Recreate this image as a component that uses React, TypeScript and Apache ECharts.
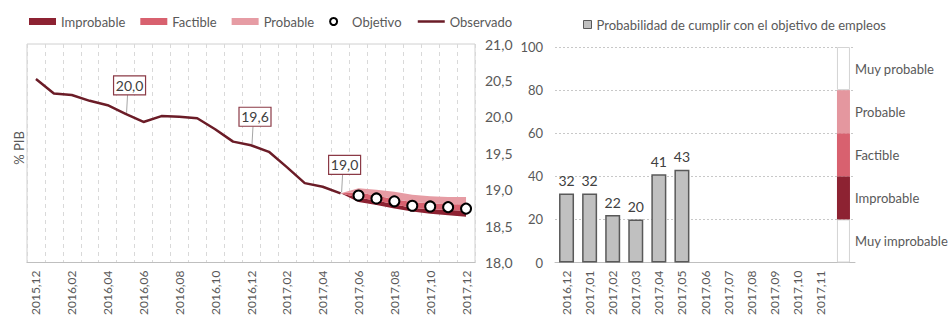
import React, { useEffect, useRef } from "react";
import * as echarts from "echarts";

const FONT = "Lato, 'Open Sans', sans-serif";

// ---------- Left chart data ----------
const leftMonths = [
  "2015,12", "2016,01", "2016,02", "2016,03", "2016,04", "2016,05", "2016,06",
  "2016,07", "2016,08", "2016,09", "2016,10", "2016,11", "2016,12", "2017,01",
  "2017,02", "2017,03", "2017,04", "2017,05", "2017,06", "2017,07", "2017,08",
  "2017,09", "2017,10", "2017,11", "2017,12",
];
const observado = [
  20.52, 20.32, 20.3, 20.22, 20.16, 20.04, 19.93, 20.01, 20.0, 19.98, 19.83,
  19.66, 19.61, 19.52, 19.31, 19.09, 19.04, 18.95,
];
// fan starts at 2017,05 (index 17) and runs to 2017,12
const fanStart = 17;
const fanLower = [18.95, 18.83, 18.79, 18.74, 18.7, 18.67, 18.65, 18.63];
const improbableTop = [18.95, 18.89, 18.85, 18.8, 18.75, 18.73, 18.72, 18.71];
const factibleTop = [18.95, 18.96, 18.92, 18.87, 18.83, 18.81, 18.8, 18.8];
const probableTop = [18.95, 19.02, 19.0, 18.97, 18.93, 18.91, 18.9, 18.9];
const objetivoStart = 18;
const objetivo = [18.92, 18.88, 18.84, 18.78, 18.77, 18.76, 18.74];
const annotIdx = [5, 12, 17];
const annotText = ["20,0", "19,6", "19,0"];

// ---------- Right chart data ----------
const rightMonths = [
  "2016,12", "2017,01", "2017,02", "2017,03", "2017,04", "2017,05", "2017,06",
  "2017,07", "2017,08", "2017,09", "2017,10", "2017,11", "",
];
const probabilidad = [32, 32, 22, 20, 41, 43];
const stripNames = ["Muy improbable", "Improbable", "Factible", "Probable", "Muy probable"];
const stripSizes = [20, 20, 20, 20, 20];
const stripColors = ["#ffffff", "#8d2232", "#d8616f", "#e4979f", "#ffffff"];

const C_IMP = "#8d2232";
const C_FAC = "#d8616f";
const C_PRO = "#e69ca4";
const C_OBS = "#6b1c27";
const TXT = "#595959";

function padTo(len: number, start: number, vals: number[]): (number | string)[] {
  const out: (number | string)[] = [];
  for (let i = 0; i < len; i++) {
    const j = i - start;
    out.push(j >= 0 && j < vals.length ? vals[j] : "-");
  }
  return out;
}

export default function App() {
  const ref = useRef<HTMLDivElement>(null);
  useEffect(() => {
    if (!ref.current) return;
    const chart = echarts.init(ref.current, undefined, { renderer: "svg" });
    const n = leftMonths.length;
    const lower = padTo(n, fanStart, fanLower);
    const impT = padTo(n, fanStart, improbableTop.map((v, i) => +(v - fanLower[i]).toFixed(3)));
    const facT = padTo(n, fanStart, factibleTop.map((v, i) => +(v - improbableTop[i]).toFixed(3)));
    const proT = padTo(n, fanStart, probableTop.map((v, i) => +(v - factibleTop[i]).toFixed(3)));
    const obj = padTo(n, objetivoStart, objetivo);
    const annotData = annotIdx.map((i) => [i, observado[i]]);

    const rn = rightMonths.length;
    const stripSeries = stripNames.map((nm, k) => ({
      name: "strip-" + k,
      type: "bar",
      xAxisIndex: 2,
      yAxisIndex: 1,
      stack: "strip",
      barWidth: 13,
      silent: true,
      data: padTo(rn, rn - 1, [stripSizes[k]]),
      itemStyle: {
        color: stripColors[k],
        borderColor: stripColors[k] === "#ffffff" ? "#d4d4d4" : stripColors[k],
        borderWidth: stripColors[k] === "#ffffff" ? 1 : 0,
      },
      label: {
        show: true,
        position: "right",
        distance: 5,
        formatter: () => nm,
        fontSize: 13,
        color: TXT,
        fontFamily: FONT,
      },
      z: 3,
    }));

    const option: any = {
      animation: false,
      textStyle: { fontFamily: FONT },
      legend: [
        {
          left: 24,
          top: 10,
          itemWidth: 27,
          itemHeight: 7,
          itemGap: 15,
          textStyle: { fontSize: 13, color: TXT, fontFamily: FONT },
          data: [
            { name: "Improbable", icon: "rect", itemStyle: { color: C_IMP } },
            { name: "Factible", icon: "rect", itemStyle: { color: C_FAC } },
            { name: "Probable", icon: "rect", itemStyle: { color: C_PRO } },
            { name: "Objetivo", icon: "circle", itemStyle: { color: "#fff", borderColor: "#000", borderWidth: 2 } },
            { name: "Observado", itemStyle: { opacity: 0 }, lineStyle: { color: C_OBS, width: 2.5 } },
          ],
        },
        {
          left: 578,
          top: 13,
          itemWidth: 8,
          itemHeight: 8,
          textStyle: { fontSize: 13, color: TXT, fontFamily: FONT },
          data: [
            {
              name: "Probabilidad de cumplir con el objetivo de empleos",
              icon: "rect",
              itemStyle: { color: "#c0c0c0", borderColor: "#595959", borderWidth: 1 },
            },
          ],
        },
      ],
      grid: [
        { left: 27, top: 44, width: 448, height: 221, show: true, borderColor: "#d0d0d0", borderWidth: 1 },
        { left: 555, top: 47, width: 300, height: 217 },
      ],
      xAxis: [
        {
          type: "category",
          gridIndex: 0,
          data: leftMonths,
          boundaryGap: true,
          axisLine: { lineStyle: { color: "#bfbfbf" } },
          axisTick: { show: false },
          axisLabel: { interval: 1, rotate: 90, fontSize: 12, color: TXT, margin: 8, fontFamily: FONT },
          splitLine: { show: true, interval: 0, lineStyle: { color: "#d9d9d9", type: [4, 4] } },
        },
        {
          type: "category",
          gridIndex: 1,
          data: rightMonths,
          axisLine: { lineStyle: { color: "#bfbfbf" } },
          axisTick: { show: false },
          axisLabel: { interval: 0, rotate: 90, fontSize: 12, color: TXT, margin: 8, fontFamily: FONT },
        },
        {
          type: "category",
          gridIndex: 1,
          data: rightMonths,
          show: false,
        },
      ],
      yAxis: [
        {
          type: "value",
          gridIndex: 0,
          position: "right",
          min: 18,
          max: 21,
          interval: 0.5,
          axisLine: { show: false },
          axisTick: { show: false },
          splitLine: { show: false },
          axisLabel: {
            margin: 10,
            fontSize: 14,
            color: TXT,
            fontFamily: FONT,
            formatter: (v: number) => v.toFixed(1).replace(".", ","),
          },
        },
        {
          type: "value",
          gridIndex: 1,
          min: 0,
          max: 100,
          interval: 20,
          axisLine: { show: false },
          axisTick: { show: false },
          splitLine: { show: true, lineStyle: { color: "#c8c8c8", type: [2, 2] } },
          axisLabel: { margin: 12, fontSize: 13, color: TXT, fontFamily: FONT },
        },
      ],
      graphic: [
        {
          type: "text",
          x: 19,
          y: 148,
          rotation: Math.PI / 2,
          style: {
            text: "% PIB",
            fontSize: 13,
            fill: TXT,
            fontFamily: FONT,
            align: "center",
            verticalAlign: "middle",
          },
        },
      ],
      series: [
        {
          name: "fan-base",
          type: "line",
          stack: "fan",
          data: lower,
          symbol: "none",
          lineStyle: { width: 0, opacity: 0 },
          silent: true,
          z: 2,
        },
        {
          name: "Improbable",
          type: "line",
          stack: "fan",
          data: impT,
          symbol: "none",
          itemStyle: { color: C_IMP },
          lineStyle: { width: 0, opacity: 0 },
          areaStyle: { color: C_IMP, opacity: 1 },
          z: 2,
        },
        {
          name: "Factible",
          type: "line",
          stack: "fan",
          data: facT,
          symbol: "none",
          itemStyle: { color: C_FAC },
          lineStyle: { width: 0, opacity: 0 },
          areaStyle: { color: C_FAC, opacity: 1 },
          z: 2,
        },
        {
          name: "Probable",
          type: "line",
          stack: "fan",
          data: proT,
          symbol: "none",
          itemStyle: { color: C_PRO },
          lineStyle: { width: 0, opacity: 0 },
          areaStyle: { color: C_PRO, opacity: 1 },
          z: 2,
        },
        {
          name: "Observado",
          type: "line",
          data: observado,
          symbol: "none",
          itemStyle: { color: C_OBS },
          lineStyle: { color: C_OBS, width: 2.5 },
          z: 3,
        },
        {
          name: "Objetivo",
          type: "scatter",
          data: obj,
          symbol: "circle",
          symbolSize: 10,
          itemStyle: { color: "#ffffff", borderColor: "#000000", borderWidth: 2, opacity: 1 },
          z: 5,
        },
        {
          name: "annot",
          type: "custom",
          data: annotData,
          z: 6,
          silent: true,
          renderItem: (params: any, api: any) => {
            const p = api.coord([api.value(0), api.value(1)]);
            const w = 32;
            const h = 19;
            const cx = p[0] + 4;
            const bottom = p[1] - 19;
            return {
              type: "group",
              children: [
                {
                  type: "line",
                  shape: { x1: p[0] + 1, y1: p[1] - 1, x2: cx - 2, y2: bottom },
                  style: { stroke: "#a6a6a6", lineWidth: 1 },
                },
                {
                  type: "rect",
                  shape: { x: cx - w / 2, y: bottom - h, width: w, height: h },
                  style: { fill: "#ffffff", stroke: "#8b3a46", lineWidth: 1.2 },
                },
                {
                  type: "text",
                  style: {
                    text: annotText[params.dataIndex],
                    x: cx,
                    y: bottom - h / 2,
                    align: "center",
                    verticalAlign: "middle",
                    fontSize: 14,
                    fill: "#404040",
                    fontFamily: FONT,
                  },
                },
              ],
            };
          },
        },
        {
          name: "Probabilidad de cumplir con el objetivo de empleos",
          type: "bar",
          xAxisIndex: 1,
          yAxisIndex: 1,
          barWidth: 15,
          data: padTo(rn, 0, probabilidad),
          itemStyle: { color: "#c0c0c0", borderColor: "#595959", borderWidth: 1.5 },
          label: { show: true, position: "top", distance: 6, fontSize: 14, color: "#404040", fontFamily: FONT },
          z: 3,
        },
        ...stripSeries,
      ],
    };
    chart.setOption(option);
    return () => chart.dispose();
  }, []);
  return (
    <div
      ref={ref}
      style={{ position: "fixed", left: 0, top: 0, width: 950, height: 318, background: "#fff" }}
    />
  );
}
